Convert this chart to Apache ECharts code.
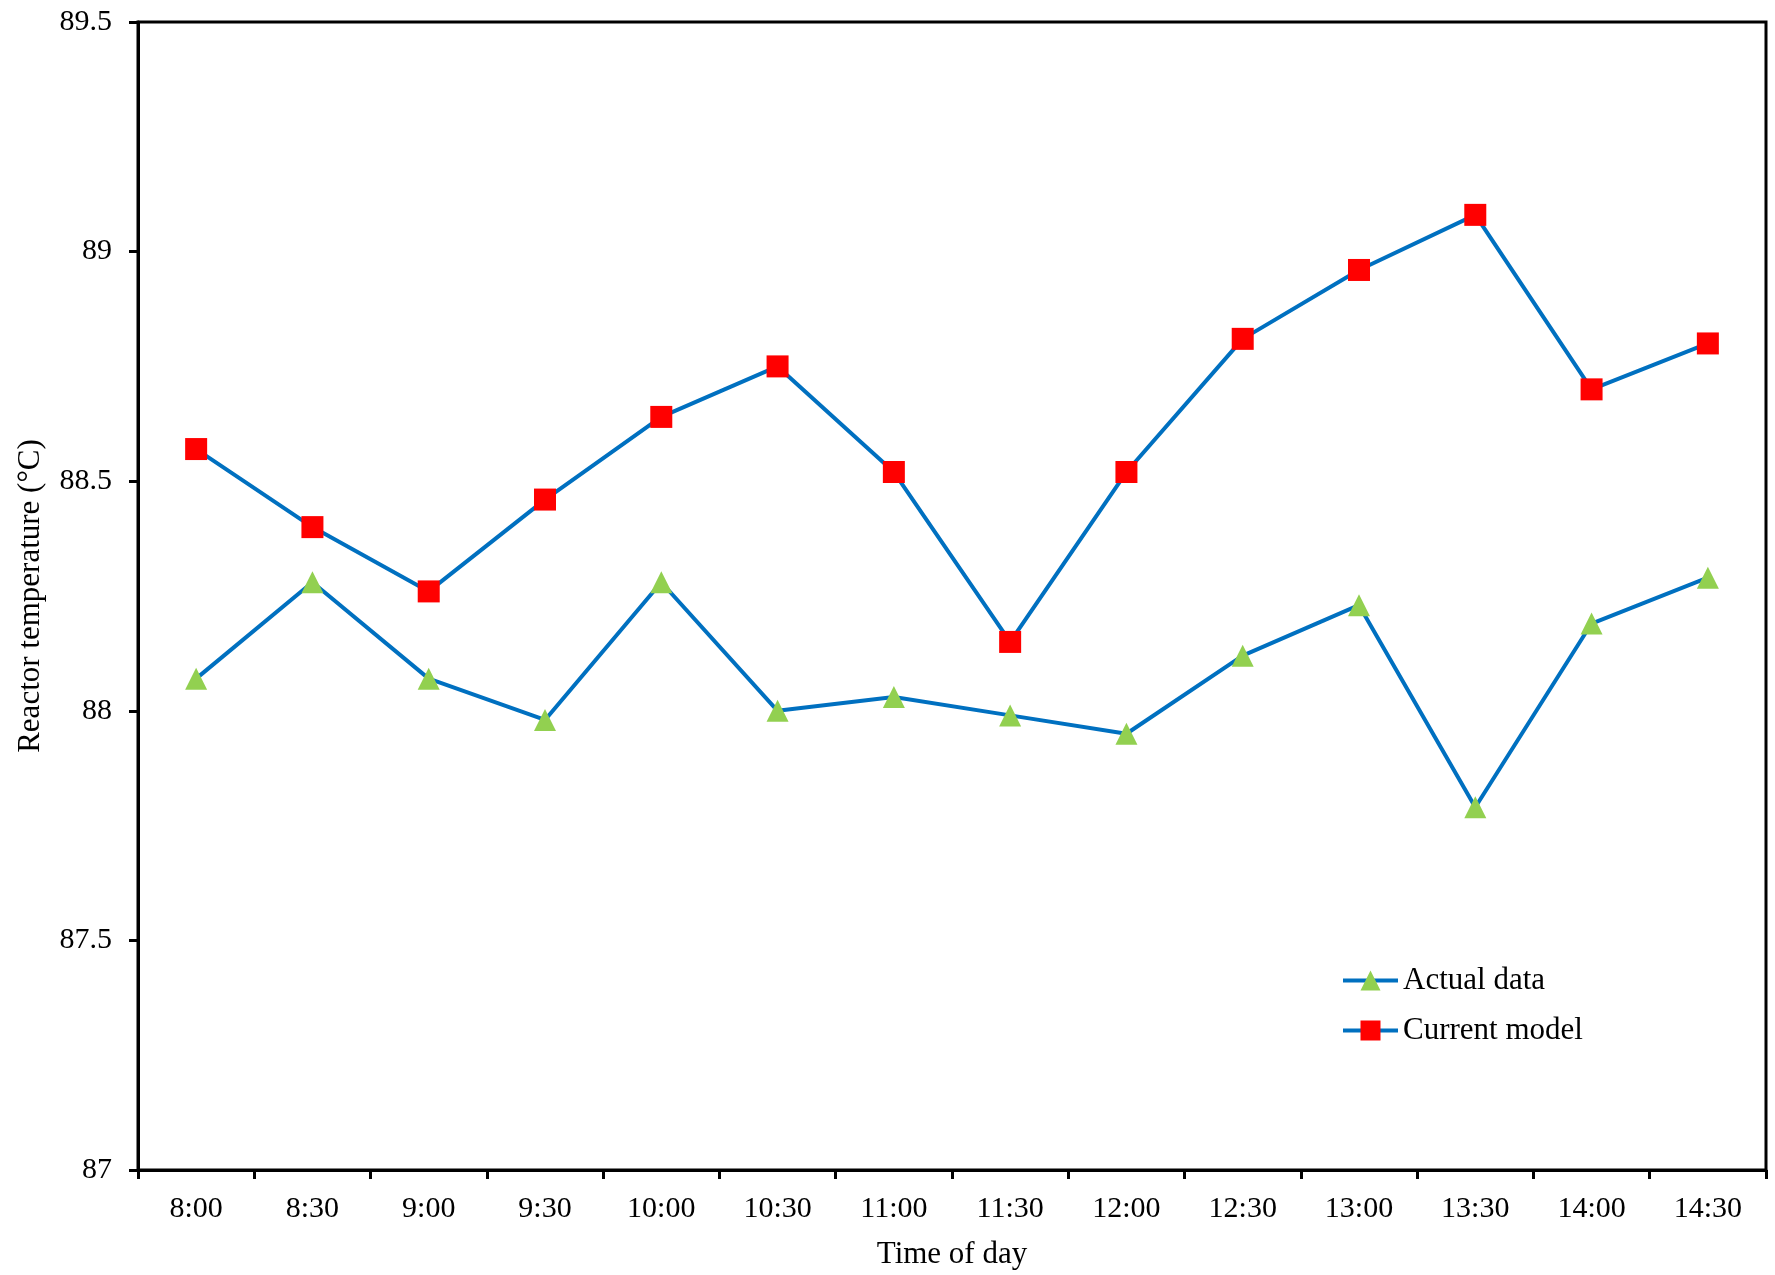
<!DOCTYPE html>
<html>
<head>
<meta charset="utf-8">
<title>Reactor temperature</title>
<script src="https://cdn.jsdelivr.net/npm/echarts@6/dist/echarts.min.js"></script>
<style>
  html, body { margin: 0; padding: 0; background: #fff; }
  #chart { width: 1775px; height: 1275px; }
</style>
</head>
<body>
<div id="chart"></div>
<script>
// Half-hourly readings over the working day
const timeLabels = ['8:00', '8:30', '9:00', '9:30', '10:00', '10:30', '11:00',
                    '11:30', '12:00', '12:30', '13:00', '13:30', '14:00', '14:30'];

// Measured reactor temperature (°C)
const actualData = [88.07, 88.28, 88.07, 87.98, 88.28, 88.00, 88.03,
                    87.99, 87.95, 88.12, 88.23, 87.79, 88.19, 88.29];

// Temperature predicted by the current model (°C)
const currentModel = [88.57, 88.40, 88.26, 88.46, 88.64, 88.75, 88.52,
                      88.15, 88.52, 88.81, 88.96, 89.08, 88.70, 88.80];

// Value axis range
const yMin = 87;
const yMax = 89.5;
const yStep = 0.5;

const FONT = '"Liberation Serif", "Times New Roman", serif';
const LINE_BLUE = '#0070C0';

const chart = echarts.init(document.getElementById('chart'), null, { renderer: 'canvas' });

chart.setOption({
  backgroundColor: '#ffffff',
  animation: false,
  textStyle: { fontFamily: FONT, color: '#000' },
  grid: {
    left: 138, right: 9, top: 22, bottom: 103,
    show: true,
    borderColor: '#000',
    borderWidth: 3,
    backgroundColor: 'transparent'
  },
  legend: {
    orient: 'vertical',
    left: 1341,
    top: 965,
    padding: 0,
    itemWidth: 55,
    itemHeight: 25,
    itemGap: 19,
    lineStyle: { width: 4 },
    textStyle: { fontFamily: FONT, fontSize: 31, color: '#000', padding: [0, 0, 0, 0] },
    data: ['Actual data', 'Current model']
  },
  xAxis: {
    type: 'category',
    data: timeLabels,
    boundaryGap: true,
    name: 'Time of day',
    nameLocation: 'middle',
    nameGap: 69,
    nameTextStyle: { fontFamily: FONT, fontSize: 31, color: '#000' },
    axisLine: { lineStyle: { color: '#000', width: 3 } },
    axisTick: { show: true, inside: false, length: 9, alignWithLabel: false,
                lineStyle: { color: '#000', width: 3 } },
    axisLabel: { fontFamily: FONT, fontSize: 30, color: '#000', margin: 24, interval: 0 },
    splitLine: { show: false }
  },
  yAxis: {
    type: 'value',
    min: yMin,
    max: yMax,
    interval: yStep,
    name: 'Reactor temperature (°C)',
    nameLocation: 'middle',
    nameGap: 92,
    nameRotate: 90,
    nameTextStyle: { fontFamily: FONT, fontSize: 31, color: '#000' },
    axisLine: { show: true, lineStyle: { color: '#000', width: 3 } },
    axisTick: { show: true, inside: false, length: 9, lineStyle: { color: '#000', width: 3 } },
    axisLabel: { fontFamily: FONT, fontSize: 30, color: '#000', margin: 26 },
    splitLine: { show: false }
  },
  series: [
    {
      name: 'Actual data',
      type: 'line',
      data: actualData,
      symbol: 'triangle',
      symbolSize: 22,
      showAllSymbol: true,
      lineStyle: { color: LINE_BLUE, width: 4 },
      itemStyle: { color: '#92D050', borderWidth: 0 },
      z: 3
    },
    {
      name: 'Current model',
      type: 'line',
      data: currentModel,
      symbol: 'rect',
      symbolSize: 22,
      showAllSymbol: true,
      lineStyle: { color: LINE_BLUE, width: 4 },
      itemStyle: { color: '#FF0000', borderWidth: 0 },
      z: 3
    }
  ]
});
</script>
</body>
</html>
